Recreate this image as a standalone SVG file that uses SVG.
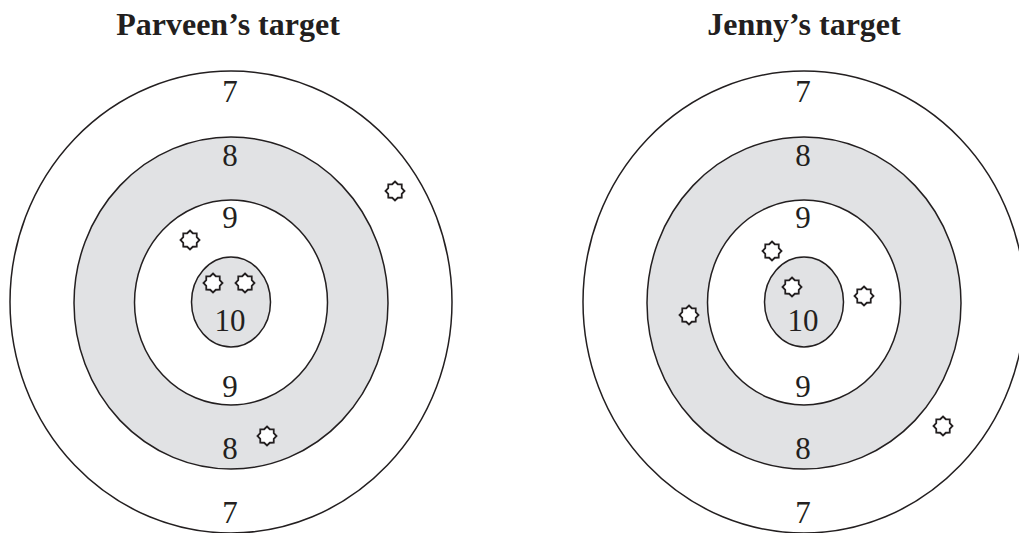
<svg xmlns="http://www.w3.org/2000/svg" xmlns:xlink="http://www.w3.org/1999/xlink" width="1019" height="533" viewBox="0 0 1019 533">
<style>
.ring{stroke:#231f20;stroke-width:1.5}
.w{fill:#ffffff}
.g{fill:#e1e2e4}
.num{font-family:"Liberation Serif","Times New Roman",serif;font-size:31px;fill:#231f20;text-anchor:middle}
.title{font-family:"Liberation Serif","Times New Roman",serif;font-size:32px;font-weight:bold;fill:#231f20;text-anchor:middle}
.hole{fill:#ffffff;stroke:#231f20;stroke-width:1.8;stroke-linejoin:miter}
</style>
<defs>
<path id="star" class="hole" d="M0,-9.5 L2.8,-6.76 L6.72,-6.72 L6.76,-2.8 L9.5,0 L6.76,2.8 L6.72,6.72 L2.8,6.76 L0,9.5 L-2.8,6.76 L-6.72,6.72 L-6.76,2.8 L-9.5,0 L-6.76,-2.8 L-6.72,-6.72 L-2.8,-6.76 Z"/>
</defs>
<rect width="1019" height="533" fill="#ffffff"/>
<g id="parveen">
<text class="title" x="228" y="35">Parveen’s target</text>
<ellipse class="ring w" cx="231" cy="302" rx="221" ry="231"/>
<ellipse class="ring g" cx="231" cy="303" rx="157" ry="166"/>
<ellipse class="ring w" cx="231" cy="302.5" rx="96.5" ry="102.5"/>
<ellipse class="ring g" cx="231" cy="302" rx="39.5" ry="45"/>
<text class="num" x="230" y="102">7</text>
<text class="num" x="230" y="166">8</text>
<text class="num" x="230" y="228">9</text>
<text class="num" x="230" y="331">10</text>
<text class="num" x="230" y="397">9</text>
<text class="num" x="230" y="459">8</text>
<text class="num" x="230" y="523">7</text>
<use xlink:href="#star" href="#star" x="395" y="191"/>
<use xlink:href="#star" href="#star" x="190" y="240"/>
<use xlink:href="#star" href="#star" x="213" y="283"/>
<use xlink:href="#star" href="#star" x="245" y="283"/>
<use xlink:href="#star" href="#star" x="267" y="436"/>
</g>
<g id="jenny">
<text class="title" x="804" y="35">Jenny’s target</text>
<ellipse class="ring w" cx="804" cy="302" rx="221" ry="231"/>
<ellipse class="ring g" cx="804" cy="303" rx="157" ry="166"/>
<ellipse class="ring w" cx="804" cy="302.5" rx="96.5" ry="102.5"/>
<ellipse class="ring g" cx="804" cy="302" rx="39.5" ry="45"/>
<text class="num" x="803" y="102">7</text>
<text class="num" x="803" y="166">8</text>
<text class="num" x="803" y="228">9</text>
<text class="num" x="803" y="331">10</text>
<text class="num" x="803" y="397">9</text>
<text class="num" x="803" y="459">8</text>
<text class="num" x="803" y="523">7</text>
<use xlink:href="#star" href="#star" x="772" y="251"/>
<use xlink:href="#star" href="#star" x="792" y="287"/>
<use xlink:href="#star" href="#star" x="864" y="296"/>
<use xlink:href="#star" href="#star" x="689" y="315"/>
<use xlink:href="#star" href="#star" x="943" y="426"/>
</g>
</svg>
